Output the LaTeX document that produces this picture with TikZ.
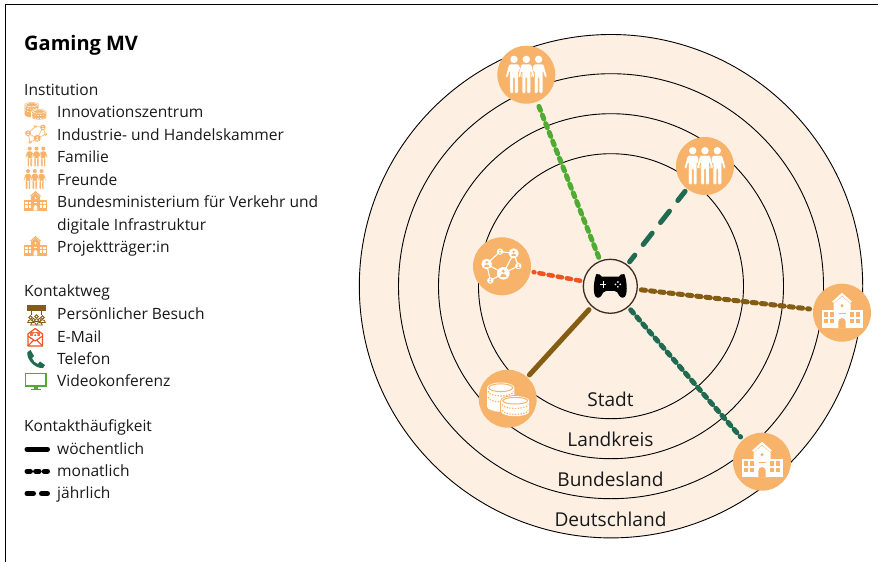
\documentclass[tikz,border=0pt]{standalone}
\usepackage{fontspec}
\setmainfont{Open Sans}
\definecolor{ringfill}{HTML}{FDEFE2}
\definecolor{iconorange}{HTML}{F8B36B}
\definecolor{cgreen}{HTML}{4FAB32}
\definecolor{cteal}{HTML}{1F6B52}
\definecolor{corange}{HTML}{EE5320}
\definecolor{cbrown}{HTML}{845C14}
\definecolor{cdark}{HTML}{3A2E22}
\newcommand{\figpath}[1]{%
  \begin{scope}[shift={(#1,0)}]
  \fill[fgc] (0,-15.3) circle (3.7);
  \filldraw[fgc,draw=bgc,line width=.4pt,rounded corners=1.2pt]
   (-5,-10.6) -- (5,-10.6) -- (8.6,2.5) -- (6.4,3.2) -- (4.2,-4) -- (4.2,18.7) -- (.6,18.7) -- (.6,3) -- (-.6,3) -- (-.6,18.7) -- (-4.2,18.7) -- (-4.2,-4) -- (-6.4,3.2) -- (-8.6,2.5) -- cycle;
  \end{scope}}
\newcommand{\iconpeople}[4]{%
  \begin{scope}[shift={(#1,#2)},scale=#3]
  \colorlet{fgc}{#4}
  \figpath{-12.3}\figpath{12.3}\figpath{0}
  \end{scope}}
\newcommand{\iconbuilding}[5]{%
  \begin{scope}[shift={(#1,#2)},scale=#3]
  \colorlet{fgc}{#4}\colorlet{bgc}{#5}
  \fill[fgc] (-20.5,-3) rectangle (20.5,15.5);
  \fill[fgc] (-8.5,-9) -- (0,-16) -- (8.5,-9) -- (8.5,15.5) -- (-8.5,15.5) -- cycle;
  \fill[fgc] (-9.8,-11.2) -- (0,-20) -- (9.8,-11.2) -- (8.2,-9.8) -- (0,-17) -- (-8.2,-9.8) -- cycle;
  \fill[bgc] (0,-7) circle (1.7);
  \fill[bgc] (-3.5,.4) rectangle (3.5,1.5);
  \foreach \wx in {-18.2,-12.2,8,14}{
    \foreach \wy in {-.5,6}{\fill[bgc] (\wx,\wy) rectangle ++(4.4,4.4);}}
  \fill[bgc] (-3.6,15.5) -- (-3.6,9) arc[start angle=180,end angle=360,radius=3.6] -- (3.6,15.5) -- cycle;
  \end{scope}}
\newcommand{\coinstack}[6]{% cx, top y, rx, ry, bottom y, rule width
  \fill[fgc] (#1-#3,#2) arc[start angle=180,end angle=360,x radius=#3,y radius=#4] -- (#1+#3,#5-#4) arc[start angle=0,end angle=180,x radius=#3,y radius=#4] -- cycle;
  \draw[bgc,line width=#6] (#1,#2) ellipse[x radius=#3-1.6,y radius=#4-1.3];
  \foreach \k in {3.6,9.5}{
    \draw[bgc,line width=1.2*#6,dash pattern=on 1.3pt off 1.5pt] (#1-#3+1,#2+\k) arc[start angle=180,end angle=0,x radius=#3-1,y radius=#4-.5];}
}
\newcommand{\iconcoins}[5]{%
  \begin{scope}[shift={(#1,#2)},scale=#3]
  \colorlet{fgc}{#4}\colorlet{bgc}{#5}
  \coinstack{-7}{-11}{13.6}{5.2}{13}{#3*1pt}
  \fill[bgc] (7.5,2) ellipse[x radius=15,y radius=5.6];
  \fill[bgc] (-7.5,2) rectangle (22.5,18);
  \coinstack{7.5}{2}{14}{4.6}{17.5}{#3*1pt}
  \end{scope}}
\newcommand{\netnode}[3]{%
  \fill[fgc] (#1,#2) circle (#3);
  \fill[bgc] (#1,#2-.32*#3) circle (.26*#3);
  \fill[bgc] (#1-.5*#3,#2+.58*#3) arc[start angle=180,end angle=360,radius=.5*#3] -- cycle;
}
\newcommand{\iconnetwork}[6]{%
  \begin{scope}[shift={(#1,#2)},scale=#3]
  \colorlet{fgc}{#4}\colorlet{bgc}{#5}
  \draw[fgc,line width=#6]
    (-15.3,-2.3) -- (-2,-14.7) -- (11.7,-13) -- (1.3,7) -- (16.3,-.3) -- (11.7,-13)
    (-15.3,-2.3) -- (1.3,7) -- (-11.7,14.3) -- (-15.3,-2.3);
  \netnode{-15.3}{-2.3}{5.3}\netnode{-2}{-14.7}{3.2}\netnode{11.7}{-13}{5}
  \netnode{16.3}{-.3}{3.2}\netnode{1.3}{7}{6.3}\netnode{-11.7}{14.3}{3.2}
  \end{scope}}
\tikzset{
  ring/.style={draw=black,line width=.9pt,fill=ringfill},
  inst/.style={circle,fill=iconorange,minimum size=58pt,inner sep=0pt},
  hub/.style={circle,draw=cdark,line width=1.3pt,fill=ringfill,minimum size=54pt,inner sep=0pt},
  leg/.style={anchor=base west,inner sep=0pt,font=\fontsize{15.55}{18}\selectfont,text=black!90},
  ringlabel/.style={anchor=base,inner sep=0pt,font=\fontsize{19.1}{22}\selectfont,text=black!90},
  tiemonth/.style={line cap=round,line width=5pt,dash pattern=on 4.3pt off 5pt,shorten <=3.5pt,shorten >=3.5pt},
  tieyear/.style={line cap=round,line width=5pt,dash pattern=on 14.5pt off 13.5pt,dash phase=6pt},
  tieweek/.style={line cap=round,line width=5pt},
  keyline/.style={line width=5pt,line cap=round,black},
}
\begin{document}
\begin{tikzpicture}[x=1pt,y=-1pt]
\useasboundingbox (0,0) rectangle (878,562);
\fill[white] (0,0) rectangle (878,562);
\coordinate (frameA) at (5.5,562);
\coordinate (frameB) at (5.5,4.5);
\coordinate (frameC) at (878,4.5);
\draw[black,line width=1.2pt] (frameA) -- (frameB) -- (frameC);
% rings
\coordinate (centre) at (611,286.2);
\draw[ring] (centre) circle (251.7);
\draw[ring] (centre) circle (212.5);
\draw[ring] (centre) circle (172.5);
\draw[ring] (centre) circle (132.5);
\node[ringlabel] (stadt) at (610.5,406.3) {Stadt};
\node[ringlabel] (landkreis) at (610.5,446.2) {Landkreis};
\node[ringlabel] (bundesland) at (610.5,486.2) {Bundesland};
\node[ringlabel] (deutschland) at (610.5,526.2) {Deutschland};
% nodes
\node[hub] (game) at (610.3,286.3) {};
\node[inst] (famA) at (526.3,74.7) {};
\node[inst] (famB) at (705,166) {};
\node[inst] (net) at (502,266.3) {};
\node[inst] (bldA) at (842,312.7) {};
\node[inst] (bldB) at (762,461.7) {};
\node[inst] (coins) at (507.7,398.7) {};
% connectors
\draw[tiemonth,cgreen] (game) -- (famA);
\draw[tieyear,cteal,shorten <=3.5pt,shorten >=3pt] (game) -- (famB);
\draw[tiemonth,corange,line width=4.5pt,shorten <=3pt,shorten >=3pt] (game) -- (net);
\draw[tiemonth,cbrown] (game) -- (bldA);
\draw[tiemonth,cteal] (game) -- (bldB);
\draw[tieweek,cbrown,shorten <=4pt,shorten >=3pt] (game) -- (coins);
% icons in circles
\colorlet{bgc}{iconorange}
\iconpeople{526.3}{74.7}{1}{white}
\iconpeople{705}{166}{1}{white}
\iconnetwork{502}{266.3}{1}{white}{iconorange}{1.1pt}
\iconbuilding{842}{312.7}{1}{white}{iconorange}
\iconbuilding{762}{461.7}{1}{white}{iconorange}
\iconcoins{507.7}{398.7}{1}{white}{iconorange}
% gamepad
\begin{scope}[shift={(610.3,286.3)}]
\fill[black] (-14,-12.2) .. controls (-11.5,-12.8) and (-9.5,-11.5) .. (-8.5,-9.6)
  -- (8.5,-9.6) .. controls (9.5,-11.5) and (11.5,-12.8) .. (14,-12.2)
  .. controls (15.5,-9) and (17.5,1) .. (15.8,8)
  .. controls (15,12) and (11,12.5) .. (9,9.5)
  .. controls (7.5,7) and (7,4.6) .. (4,4.6)
  -- (-4,4.6) .. controls (-7,4.6) and (-7.5,7) .. (-9,9.5)
  .. controls (-11,12.5) and (-15,12) .. (-15.8,8)
  .. controls (-17.5,1) and (-15.5,-9) .. (-14,-12.2) -- cycle;
\fill[white] (-10,-2.6) rectangle (-4,-1.2);
\fill[white] (-7.7,-5) rectangle (-6.3,1.2);
\foreach \dx/\dy in {0/-2.4,0/2.4,-2.4/0,2.4/0}{\fill[white] (7.5+\dx,-1.9+\dy) circle (.95);}
\end{scope}
% legend
\node[anchor=base west,inner sep=0pt,font=\bfseries\fontsize{20}{24}\selectfont] (title) at (24,50) {Gaming MV};
\node[leg] (h1) at (24,95) {Institution};
\node[leg] (t1) at (57,117) {Innovationszentrum};
\node[leg] (t2) at (57,140) {Industrie- und Handelskammer};
\node[leg] (t3) at (57,162) {Familie};
\node[leg] (t4) at (57,185) {Freunde};
\node[leg] (t5) at (57,207.3) {Bundesministerium für Verkehr und};
\node[leg] (t5b) at (57,230) {digitale Infrastruktur};
\node[leg] (t6) at (57,252) {Projektträger:in};
\node[leg] (h2) at (24,296) {Kontaktweg};
\node[leg] (t7) at (57,319) {Persönlicher Besuch};
\node[leg] (t8) at (57,342) {E-Mail};
\node[leg] (t9) at (57,364.3) {Telefon};
\node[leg] (t10) at (57,386.7) {Videokonferenz};
\node[leg] (h3) at (24,431) {Kontakthäufigkeit};
\node[leg] (t11) at (57,454) {wöchentlich};
\node[leg] (t12) at (57,476) {monatlich};
\node[leg] (t13) at (57,498.7) {jährlich};
% legend icons
\colorlet{bgc}{white}
\iconcoins{35.3}{110.5}{.52}{iconorange}{white}
\iconnetwork{36.5}{134.5}{.55}{iconorange}{white}{.6pt}
\iconpeople{36.5}{157}{.55}{iconorange}
\iconpeople{34.8}{179.5}{.55}{iconorange}
\iconbuilding{35.5}{202}{.55}{iconorange}{white}
\iconbuilding{35.5}{247}{.55}{iconorange}{white}
% meeting icon
\begin{scope}[shift={(36.5,314.5)}]
\fill[cbrown] (-9.2,-9.3) rectangle (9.2,-3.7);
\draw[cbrown,line width=.6pt] (-5,-3.7) -- (-5,0) (5,-3.7) -- (5,0);
\foreach \mx/\my in {-6/3,6/3,0/2,-3/5.5,3/5.5}{
  \draw[cbrown,line width=.8pt,fill=white] (\mx,\my) circle (1.7);
  \draw[cbrown,line width=.8pt,fill=white] (\mx-2.8,\my+5) .. controls (\mx-2.8,\my+1.5) and (\mx+2.8,\my+1.5) .. (\mx+2.8,\my+5) -- cycle;}
\end{scope}
% mail icon
\begin{scope}[shift={(35.2,337.5)},corange]
\draw[line width=1.2pt,line join=round,fill=white] (-7.3,-3.5) -- (0,-9) -- (7.3,-3.5) -- (7.3,8.5) -- (-7.3,8.5) -- cycle;
\fill[corange!85] (-4.8,-5.5) rectangle (4.8,1.5);
\fill[white] (0,-2.3) circle (2.4);
\fill[corange] (0,-2.3) circle (1.1);
\draw[line width=1.1pt,fill=white,line join=round] (-7.3,-1.5) -- (0,3.5) -- (7.3,-1.5);
\draw[line width=1.1pt] (-7.3,8.5) -- (-1.5,2.5) (7.3,8.5) -- (1.5,2.5);
\end{scope}
% phone icon
\fill[cteal] (27.5,352) -- (30.5,350) -- (34,356) -- (32,358) .. controls (33,361) and (35,363) .. (38,364) -- (40,361.5) -- (45,365) -- (43,368) .. controls (36,369) and (26,360) .. (27.5,352) -- cycle;
% monitor icon
\draw[cgreen,line width=1.2pt,fill=white] (25.7,373.3) rectangle (46,386);
\fill[cgreen] (34,386) rectangle (38,388.5);
\fill[cgreen] (31,388.5) rectangle (41,390);
% key lines
\coordinate (kw1) at (27,449.2);\coordinate (kw2) at (47.5,449.2);
\draw[keyline] (kw1) -- (kw2);
\coordinate (km1) at (27,471.3);\coordinate (km2) at (47.5,471.3);
\draw[keyline,dash pattern=on 3.4pt off 5.2pt] (km1) -- (km2);
\coordinate (ky1) at (27,493.5);\coordinate (ky2) at (47.5,493.5);
\draw[keyline,dash pattern=on 6.5pt off 8pt] (ky1) -- (ky2);
\end{tikzpicture}
\end{document}
